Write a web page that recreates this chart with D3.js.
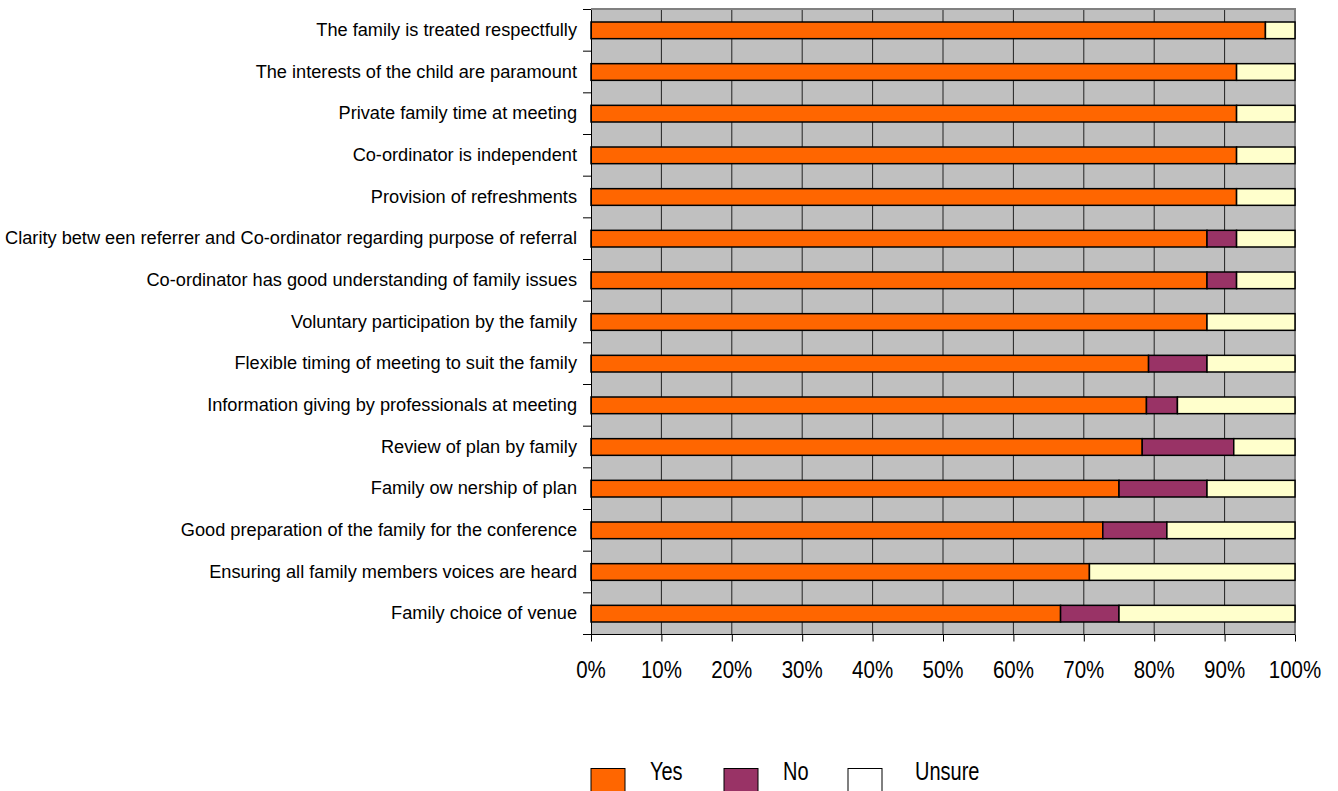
<!DOCTYPE html>
<html>
<head>
<meta charset="utf-8">
<script src="https://cdn.jsdelivr.net/npm/d3@7"></script>
<style>
  html, body { margin: 0; padding: 0; background: #fff; }
  svg { display: block; font-family: "Liberation Sans", Arial, sans-serif; }
</style>
</head>
<body>
<svg id="chart" width="1338" height="791"></svg>
<script>
// Survey items, top to bottom
const categories = [
  "The family is treated respectfully",
  "The interests of the child are paramount",
  "Private family time at meeting",
  "Co-ordinator is independent",
  "Provision of refreshments",
  "Clarity betw een referrer and Co-ordinator regarding purpose of referral",
  "Co-ordinator has good understanding of family issues",
  "Voluntary participation by the family",
  "Flexible timing of meeting to suit the family",
  "Information giving by professionals at meeting",
  "Review of plan by family",
  "Family ow nership of plan",
  "Good preparation of the family for the conference",
  "Ensuring all family members voices are heard",
  "Family choice of venue"
];

// Percent of responses per item
const yesValues    = [95.8, 91.7, 91.7, 91.7, 91.7, 87.5, 87.5, 87.5, 79.2, 78.9, 78.3, 75.0, 72.7, 70.8, 66.7];
const noValues     = [ 0.0,  0.0,  0.0,  0.0,  0.0,  4.2,  4.2,  0.0,  8.3,  4.4, 13.0, 12.5,  9.1,  0.0,  8.3];
const unsureValues = [ 4.2,  8.3,  8.3,  8.3,  8.3,  8.3,  8.3, 12.5, 12.5, 16.7,  8.7, 12.5, 18.2, 29.2, 25.0];

const seriesNames = ["Yes", "No", "Unsure"];
const xTicks = [0, 10, 20, 30, 40, 50, 60, 70, 80, 90, 100];

const svg = d3.select("#chart");
const plot = { left: 591, top: 9.5, width: 704, height: 625 };

const x = d3.scaleLinear().domain([0, 100]).range([plot.left, plot.left + plot.width]);
const y = d3.scaleBand().domain(categories)
  .range([plot.top, plot.top + plot.height])
  .paddingInner(0.6).paddingOuter(0.3);
const yOuter = d3.scaleBand().domain(categories)
  .range([plot.top, plot.top + plot.height]);

const colors = { Yes: "#FF6600", No: "#993366", Unsure: "#FFFFCC" };

// Plot background
svg.append("rect")
  .attr("x", plot.left).attr("y", plot.top)
  .attr("width", plot.width).attr("height", plot.height)
  .attr("fill", "#C0C0C0");

// Vertical gridlines
svg.append("g").selectAll("line")
  .data(xTicks.filter(t => t > 0 && t < 100))
  .join("line")
  .attr("x1", d => x(d)).attr("x2", d => x(d))
  .attr("y1", plot.top).attr("y2", plot.top + plot.height)
  .attr("stroke", "#222").attr("stroke-width", 1);

// Top and right frame
svg.append("path")
  .attr("d", `M${plot.left},${plot.top - 0.5}H${plot.left + plot.width}V${plot.top + plot.height}`)
  .attr("fill", "none").attr("stroke", "#808080").attr("stroke-width", 2);

// Stacked bars
const rows = categories.map((c, i) => ({
  cat: c, Yes: yesValues[i], No: noValues[i], Unsure: unsureValues[i]
}));
const stacked = d3.stack().keys(seriesNames)(rows);

svg.append("g").selectAll("g")
  .data(stacked)
  .join("g")
  .attr("fill", d => colors[d.key])
  .selectAll("rect")
  .data(d => d.filter(s => s[1] - s[0] > 0))
  .join("rect")
  .attr("x", d => x(d[0]))
  .attr("width", d => x(d[1]) - x(d[0]))
  .attr("y", d => y(d.data.cat))
  .attr("height", y.bandwidth())
  .attr("stroke", "#000")
  .attr("stroke-width", 1.5);

// Category axis
const yAxis = svg.append("g")
  .attr("transform", `translate(${plot.left},0)`)
  .call(d3.axisLeft(yOuter).tickSize(0).tickFormat(""));
yAxis.select(".domain").attr("stroke", "#000").attr("stroke-width", 1);

// Category boundary ticks
svg.append("g").selectAll("line")
  .data(d3.range(categories.length + 1))
  .join("line")
  .attr("x1", plot.left - 8).attr("x2", plot.left)
  .attr("y1", i => plot.top + i * yOuter.step())
  .attr("y2", i => plot.top + i * yOuter.step())
  .attr("stroke", "#000").attr("stroke-width", 1);

// Category labels
svg.append("g").selectAll("text")
  .data(categories)
  .join("text")
  .attr("transform", d => `translate(${plot.left - 14},${yOuter(d) + yOuter.bandwidth() / 2 + 5.5}) scale(1,1.04)`)
  .attr("text-anchor", "end")
  .attr("font-size", 18.2)
  .attr("fill", "#000")
  .text(d => d);

// Value axis
const xAxis = svg.append("g")
  .attr("transform", `translate(0,${plot.top + plot.height})`)
  .call(d3.axisBottom(x).tickValues(xTicks).tickSize(7).tickFormat(""));
xAxis.select(".domain").attr("stroke", "#000").attr("d", `M${plot.left},0H${plot.left + plot.width}`);
xAxis.selectAll(".tick line").attr("stroke", "#000");

svg.append("g").selectAll("text")
  .data(xTicks)
  .join("text")
  .attr("transform", d => `translate(${x(d)},677.5) scale(1,1.18)`)
  .attr("text-anchor", "middle")
  .attr("font-size", 20.5)
  .attr("fill", "#000")
  .text(d => d + "%");

// Legend
const legendItems = [
  { name: "Yes", fill: "#FF6600", sx: 591, tx: 650 },
  { name: "No", fill: "#993366", sx: 724, tx: 783 },
  { name: "Unsure", fill: "#FFFFFF", sx: 848, tx: 915 }
];
const legend = svg.append("g");
legend.selectAll("rect")
  .data(legendItems)
  .join("rect")
  .attr("x", d => d.sx).attr("y", 768.5)
  .attr("width", 34).attr("height", 34)
  .attr("fill", d => d.fill)
  .attr("stroke", "#000").attr("stroke-width", 1);
legend.selectAll("text")
  .data(legendItems)
  .join("text")
  .attr("transform", d => `translate(${d.tx},780) scale(1,1.25)`)
  .attr("font-size", 20)
  .attr("fill", "#000")
  .text(d => d.name);
</script>
</body>
</html>
